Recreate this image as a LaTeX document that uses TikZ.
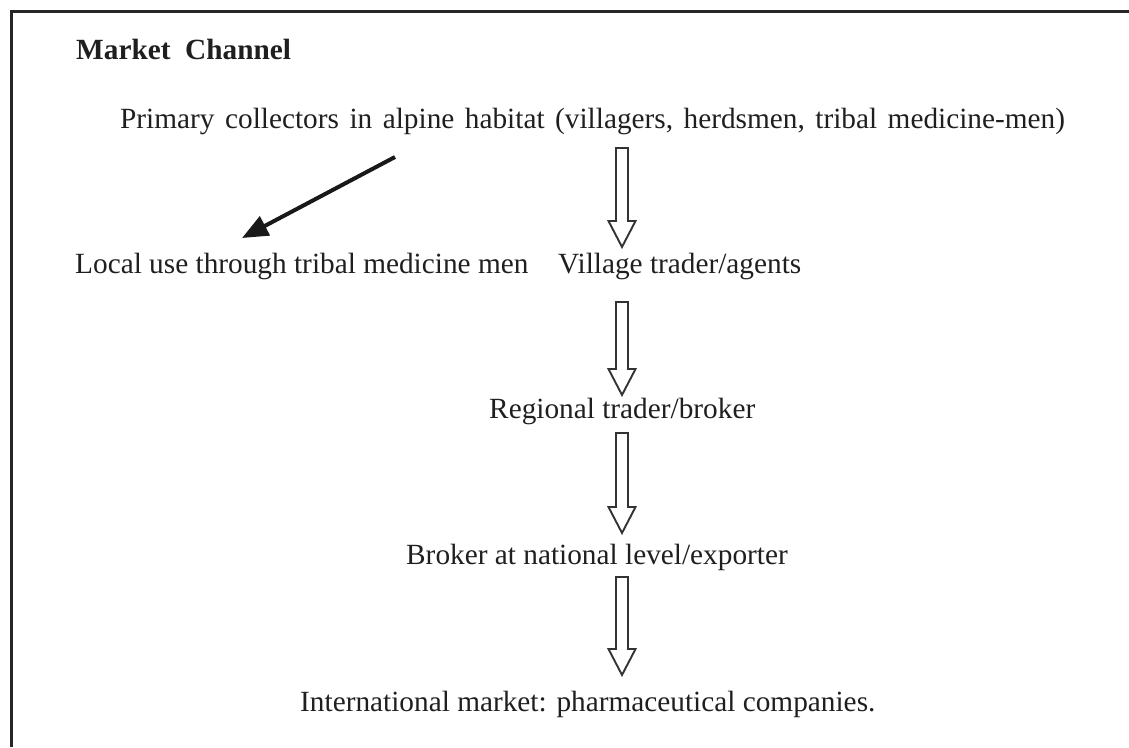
\documentclass[tikz,border=0pt]{standalone}
\usepackage{fontspec}
\setmainfont{Liberation Serif}
\usetikzlibrary{calc,arrows.meta}
\begin{document}
\begin{tikzpicture}[x=1pt,y=-1pt,
  txt/.style={anchor=base west,inner sep=0pt,font=\fontsize{29.3}{35}\selectfont,text=black!88},
  titletxt/.style={txt,font=\fontsize{29.3}{35}\selectfont\bfseries},
  frameline/.style={line width=3pt,draw=black!85},
  hollow/.style={draw=black!80,line width=1.9pt,line join=miter,fill=white},
  harrow/.style={to path={let \p1=(\tikztostart),\p2=(\tikztotarget) in
     (\x1-6pt,\y1) -- (\x1-6pt,\y2+26pt) -- (\x1-13.5pt,\y2+26pt) -- (\x2,\y2)
     -- (\x1+13.5pt,\y2+26pt) -- (\x1+6pt,\y2+26pt) -- (\x1+6pt,\y1) -- cycle}},
  solidarrow/.style={draw=black!90,line width=4pt,-{Triangle[length=26pt,width=21pt]}},
]
\useasboundingbox (0,0) rectangle (1129,747);
\draw[frameline] (11,747) -- (11,11) -- (1129,11);

\node[titletxt] (title) at (76,59) {Market\ \ Channel};
\node[txt] (prim) at (120,128) {\spaceskip=10.5pt Primary collectors in alpine habitat (villagers, herdsmen, tribal medicine-men)};
\node[txt] (local) at (75,273) {Local use through tribal medicine men};
\node[txt] (village) at (558,273) {Village trader/agents};
\node[txt] (regional) at (489,418) {Regional trader/broker};
\node[txt] (broker) at (406,564) {Broker at national level/exporter};
\node[txt] (intl) at (300,711) {International market: pharmaceutical companies.};

\coordinate (a1s) at (622,148); \coordinate (a1e) at (622,247);
\coordinate (a2s) at (622,302); \coordinate (a2e) at (622,395);
\coordinate (a3s) at (622,433); \coordinate (a3e) at (622,533);
\coordinate (a4s) at (622,577); \coordinate (a4e) at (622,675);
\draw[hollow] (a1s) to[harrow] (a1e);
\draw[hollow] (a2s) to[harrow] (a2e);
\draw[hollow] (a3s) to[harrow] (a3e);
\draw[hollow] (a4s) to[harrow] (a4e);

\coordinate (d1) at (395,157);
\coordinate (d2) at (242,238);
\draw[solidarrow] (d1) -- (d2);
\end{tikzpicture}
\end{document}
